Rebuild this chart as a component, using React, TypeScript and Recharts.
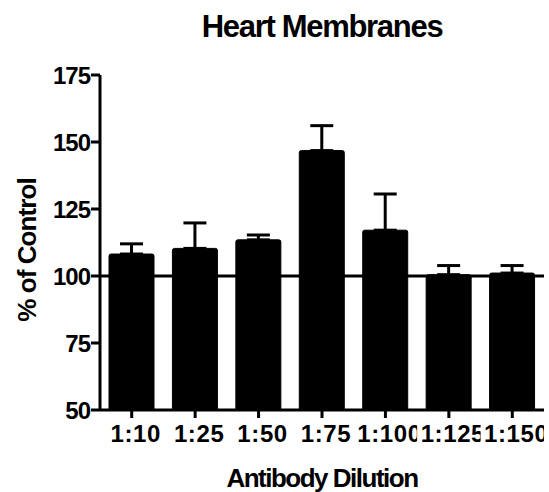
import { BarChart, Bar, XAxis, YAxis, ErrorBar, ReferenceLine } from "recharts";

const DILUTIONS = ["1:10", "1:25", "1:50", "1:75", "1:100", "1:125", "1:150"];
const PCT_CONTROL = [108.2, 110.3, 113.5, 146.8, 117.1, 100.5, 101.1];
const ERR_UP = [3.8, 9.5, 1.8, 9.3, 13.5, 3.4, 2.8];
const Y_TICKS = [50, 75, 100, 125, 150, 175];

const FONT = "'Liberation Sans', Arial, sans-serif";

const data = DILUTIONS.map((name, i) => ({
  name,
  value: PCT_CONTROL[i],
  err: [0, ERR_UP[i]],
}));

// graphpad clips each category label to its own band
const DilutionTick = (props: any) => {
  const { x, y, payload, index } = props;
  const band = 444 / DILUTIONS.length;
  const id = `tick-clip-${index}`;
  return (
    <g>
      <clipPath id={id}>
        <rect x={x - band / 2} y={y - 4} width={band} height={40} />
      </clipPath>
      <text
        x={x + 4}
        y={y}
        dy={24}
        textAnchor="middle"
        clipPath={`url(#${id})`}
        fill="#000"
        fontFamily={FONT}
        fontWeight="bold"
        fontSize={24}
        letterSpacing={0.6}
      >
        {payload.value}
      </text>
    </g>
  );
};

export default function App() {
  return (
    <div style={{ position: "absolute", left: 0, top: 0, background: "#fff" }}>
      <BarChart
        width={549}
        height={492}
        data={data}
        margin={{ top: 75, right: 5, bottom: 52, left: 0 }}
      >
        <text
          x={322}
          y={37}
          textAnchor="middle"
          fontFamily={FONT}
          fontWeight="bold"
          fontSize={31}
          letterSpacing={-1.3}
          fill="#000"
        >
          Heart Membranes
        </text>
        <text
          transform="translate(36,250) rotate(-90)"
          textAnchor="middle"
          fontFamily={FONT}
          fontWeight="bold"
          fontSize={26}
          letterSpacing={-0.9}
          fill="#000"
        >
          % of Control
        </text>
        <text
          x={322}
          y={487}
          textAnchor="middle"
          fontFamily={FONT}
          fontWeight="bold"
          fontSize={26}
          letterSpacing={-1.5}
          fill="#000"
        >
          Antibody Dilution
        </text>
        <XAxis
          dataKey="name"
          height={30}
          interval={0}
          tickSize={8}
          tickMargin={0}
          axisLine={{ stroke: "#000", strokeWidth: 3 }}
          tickLine={{ stroke: "#000", strokeWidth: 3 }}
          tick={<DilutionTick />}
        />
        <YAxis
          width={100}
          domain={[50, 175]}
          ticks={Y_TICKS}
          allowDataOverflow
          tickSize={9}
          tickMargin={1}
          axisLine={{ stroke: "#000", strokeWidth: 3 }}
          tickLine={{ stroke: "#000", strokeWidth: 3 }}
          tick={{ fill: "#000", fontSize: 24, fontWeight: "bold", fontFamily: FONT, letterSpacing: -1 }}
        />
        <ReferenceLine y={100} stroke="#000" strokeWidth={3} />
        <Bar
          dataKey="value"
          fill="#000"
          stroke="#000"
          barSize={45}
          radius={[2, 2, 0, 0]}
          isAnimationActive={false}
        >
          <ErrorBar
            dataKey="err"
            direction="y"
            width={11.5}
            stroke="#000"
            strokeWidth={3}
            isAnimationActive={false}
          />
        </Bar>
      </BarChart>
    </div>
  );
}
